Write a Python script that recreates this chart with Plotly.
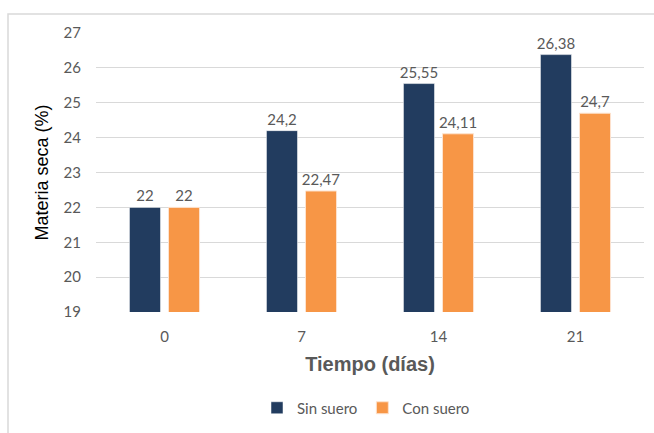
import plotly.graph_objects as go

dias = ["0", "7", "14", "21"]
sin_suero = [22, 24.2, 25.55, 26.38]
con_suero = [22, 22.47, 24.11, 24.7]
etiquetas_sin = ["22", "24,2", "25,55", "26,38"]
etiquetas_con = ["22", "22,47", "24,11", "24,7"]

W, H = 654, 433
ML, MR, MT, MB = 96, 10, 33, 120
pw = W - ML - MR
ph = H - MT - MB

label_font = dict(family="Lato, Open Sans, sans-serif", size=15, color="#595959")

fig = go.Figure()
fig.add_trace(go.Bar(
    name="Sin suero", x=dias, y=sin_suero, base=0,
    marker=dict(color="#223C5F", line=dict(color="#FFFFFF", width=0.5)),
    text=etiquetas_sin, textposition="outside", textfont=label_font,
    constraintext="none", cliponaxis=False,
))
fig.add_trace(go.Bar(
    name="Con suero", x=dias, y=con_suero, base=0,
    marker=dict(color="#F79646", line=dict(color="#FDE3CF", width=1)),
    text=etiquetas_con, textposition="outside", textfont=label_font,
    constraintext="none", cliponaxis=False,
))

# chart frame (only the top and left edges fall inside the page)
fig.add_shape(type="rect", xref="paper", yref="paper",
              x0=(8 - ML) / pw, x1=(W + 20 - ML) / pw,
              y0=-(MB + 20) / ph, y1=1 + (MT - 14) / ph,
              line=dict(color="#D9D9D9", width=1.5), fillcolor="rgba(0,0,0,0)",
              layer="below")

fig.update_layout(
    width=W, height=H,
    margin=dict(l=ML, r=MR, t=MT, b=MB),
    paper_bgcolor="white", plot_bgcolor="white",
    barmode="group", bargap=0.43, bargroupgap=0.205,
    showlegend=True,
    legend=dict(orientation="h", x=(366 - ML) / pw, xanchor="center",
                y=-(408 - MT - ph) / ph, yanchor="middle",
                font=dict(family="Lato, Open Sans, sans-serif", size=15, color="#595959"),
                itemwidth=30, traceorder="normal"),
)
fig.update_xaxes(
    type="category", showline=False, ticks="", ticklabelstandoff=14,
    tickfont=dict(family="Lato, Open Sans, sans-serif", size=15, color="#595959"),
    title=dict(text="<b>Tiempo (días)</b>", standoff=12,
               font=dict(family="Liberation Sans, Arial, sans-serif", size=20, color="#595959")),
)
fig.update_yaxes(
    range=[19, 27], dtick=1, showgrid=True, gridcolor="#D9D9D9", gridwidth=1,
    zeroline=False, showline=False, ticks="", ticklabelstandoff=14,
    tickfont=dict(family="Lato, Open Sans, sans-serif", size=15, color="#595959"),
    title=dict(text="Materia seca (%)", standoff=10,
               font=dict(family="Liberation Sans, Arial, sans-serif", size=18, color="#000000")),
)

fig.write_html("out.html")
